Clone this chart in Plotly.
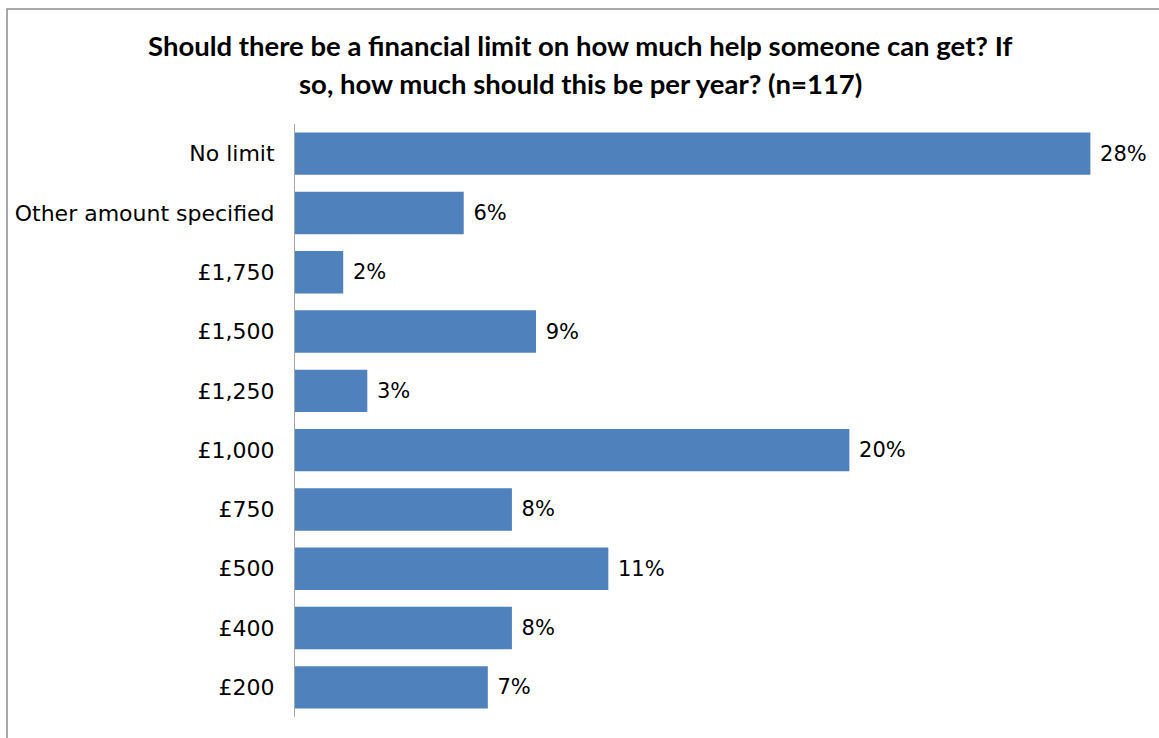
import plotly.graph_objects as go

# Survey responses (n=117): number of respondents choosing each option
n_respondents = 117
categories = ["No limit", "Other amount specified", "£1,750", "£1,500", "£1,250",
              "£1,000", "£750", "£500", "£400", "£200"]
counts = [33, 7, 2, 10, 3, 23, 9, 13, 9, 8]
shares = [c / n_respondents * 100 for c in counts]

title_line1 = "Should there be a financial limit on how much help someone can get? If"
title_line2 = "so, how much should this be per year? (n=117)"

BAR_COLOR = "#4F81BD"
LABEL_FONT = dict(family="DejaVu Sans", size=22, color="#000000")
VALUE_FONT = dict(family="DejaVu Sans", size=21, color="#000000")
TITLE_FONT = dict(family="Lato", size=27.5, color="#000000")

fig = go.Figure(
    go.Bar(
        x=shares,
        y=categories,
        orientation="h",
        marker=dict(color=BAR_COLOR, line=dict(width=0)),
        texttemplate=" %{x:.0f}%",
        textposition="outside",
        textfont=VALUE_FONT,
        cliponaxis=False,
        hovertemplate="%{y}: %{x:.1f}%<extra></extra>",
    )
)

fig.update_layout(
    width=1159,
    height=738,
    margin=dict(l=295, r=18, t=124, b=21),
    paper_bgcolor="white",
    plot_bgcolor="white",
    showlegend=False,
    bargap=0.285,
    xaxis=dict(range=[0, 30], visible=False, fixedrange=True),
    yaxis=dict(
        categoryorder="array",
        categoryarray=categories,
        autorange="reversed",
        showline=True,
        linecolor="#A6A6A6",
        linewidth=1,
        showgrid=False,
        zeroline=False,
        ticks="",
        ticklabelstandoff=15,
        tickfont=LABEL_FONT,
        fixedrange=True,
    ),
    annotations=[
        dict(text="<b>" + title_line1 + "</b>", xref="paper", yref="paper",
             x=0.337, y=1.133, xanchor="center", yanchor="middle",
             showarrow=False, font=TITLE_FONT),
        dict(text="<b>" + title_line2 + "</b>", xref="paper", yref="paper",
             x=0.337, y=1.069, xanchor="center", yanchor="middle",
             showarrow=False, font=TITLE_FONT),
    ],
    shapes=[
        # chart-area frame
        dict(type="rect", xref="paper", yref="paper",
             x0=-0.3404, x1=1.1, y0=-0.1, y1=1.194,
             line=dict(color="#8C8C8C", width=1.5), fillcolor="rgba(0,0,0,0)",
             layer="below"),
    ],
)

fig.write_html("out.html")
